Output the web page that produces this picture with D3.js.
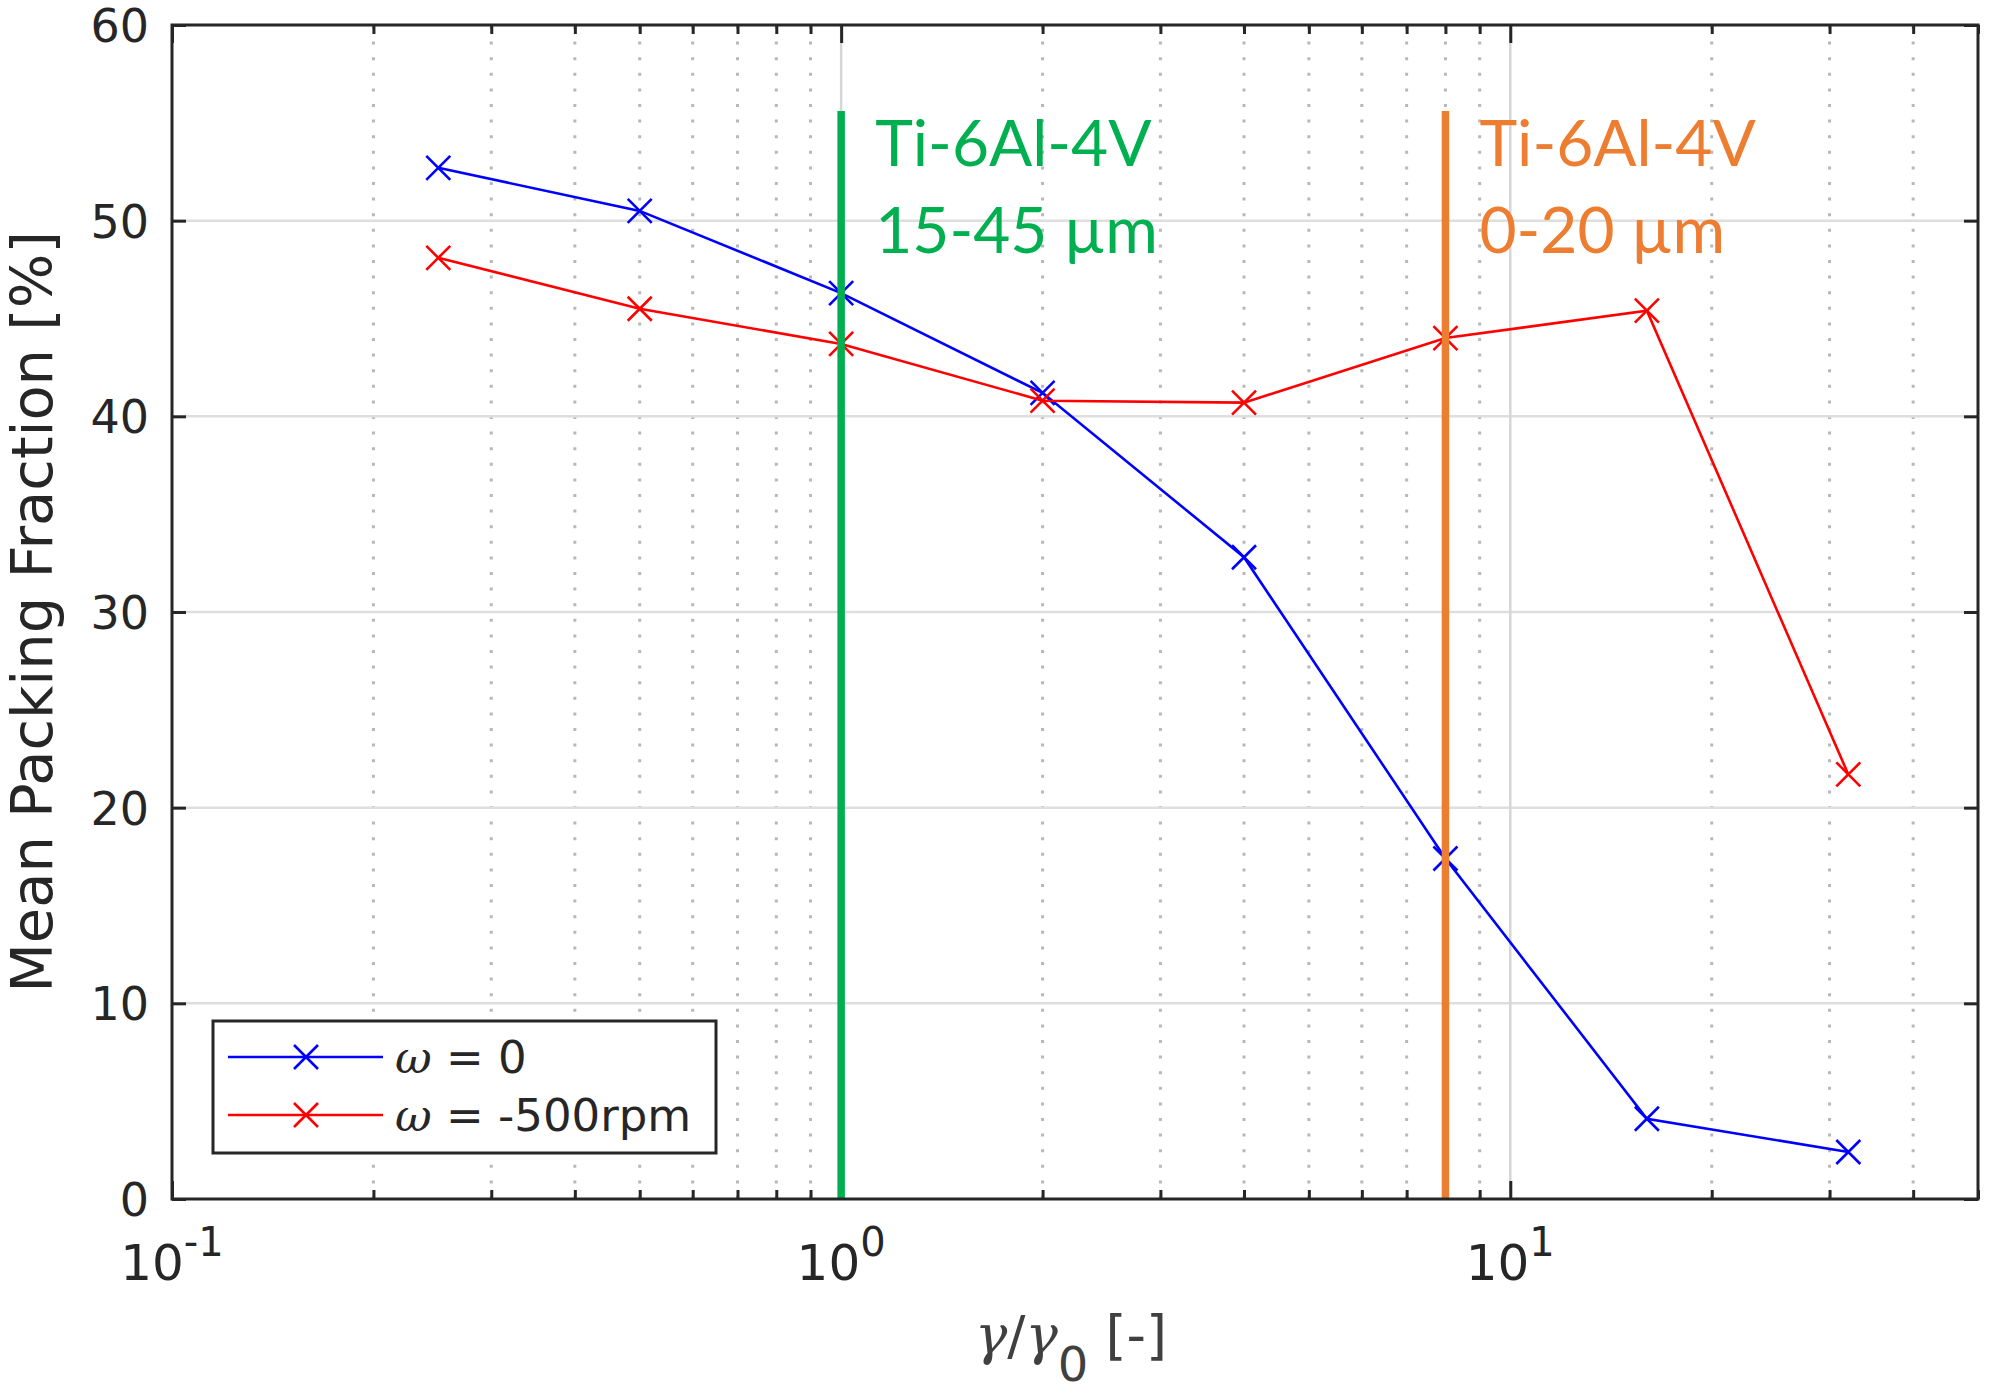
<!DOCTYPE html>
<html><head><meta charset="utf-8">
<script src="https://cdn.jsdelivr.net/npm/d3@7"></script>
<style>body{margin:0;background:#fff}</style>
</head><body>
<svg id="c" width="2000" height="1395" xmlns="http://www.w3.org/2000/svg"></svg>
<script>
// ---- data ----
const ratios = [0.25, 0.5, 1, 2, 4, 8, 16, 32];
const packNoRot = [52.7, 50.5, 46.3, 41.2, 32.8, 17.4, 4.1, 2.4];
const packRot = [48.1, 45.5, 43.7, 40.8, 40.7, 44.0, 45.4, 21.7];
const legendPrefix = ["ω", "ω"];
const legendRest = [" = 0", " = -500rpm"];
const seriesColors = ["#0000ff", "#ff0000"];
const yTicks = [0, 10, 20, 30, 40, 50, 60];
const xMajor = [0.1, 1, 10];
const xMajorExp = ["-1", "0", "1"];
const xMinor = [0.2, 0.3, 0.4, 0.5, 0.6, 0.7, 0.8, 0.9, 2, 3, 4, 5, 6, 7, 8, 9, 20, 30, 40, 50];
const markerX = [1, 8];
const markerTop = [55.6, 55.6];
const markerLabels = [["Ti-6Al-4V", "15-45 µm"], ["Ti-6Al-4V", "0-20 µm"]];
const markerColors = ["#00b050", "#ed7d31"];

// ---- layout ----
const L = 172, R = 1978, T = 25, B = 1199;
const ink = "#262626";
const x = d3.scaleLog().domain([0.1, 50]).range([L, R]);
const y = d3.scaleLinear().domain([0, 60]).range([B, T]);
const svg = d3.select("#c");

// grid
const g = svg.append("g");
g.selectAll(".mg").data(xMinor.filter(v => v < 50)).enter().append("line")
  .attr("x1", d => x(d)).attr("x2", d => x(d)).attr("y1", B).attr("y2", T)
  .attr("stroke", "#b8b8b8").attr("stroke-width", 3).attr("stroke-dasharray", "3,12.6");
g.selectAll(".yg").data(yTicks.filter(v => v > 0 && v < 60)).enter().append("line")
  .attr("x1", L).attr("x2", R).attr("y1", d => y(d)).attr("y2", d => y(d))
  .attr("stroke", "#dedede").attr("stroke-width", 2.5);
g.selectAll(".xg").data(xMajor.filter(v => v > 0.1)).enter().append("line")
  .attr("x1", d => x(d)).attr("x2", d => x(d)).attr("y1", B).attr("y2", T)
  .attr("stroke", "#d6d6d6").attr("stroke-width", 2.5);

// axes via d3 (ticks inward)
function styleAxis(sel) {
  sel.select(".domain").remove();
  sel.selectAll("line").attr("stroke", ink).attr("stroke-width", 3);
  sel.selectAll("text").remove();
}
svg.append("g").attr("transform", `translate(${L},0)`)
  .call(d3.axisRight(y).tickValues(yTicks).tickSize(14)).call(styleAxis);
svg.append("g").attr("transform", `translate(${R},0)`)
  .call(d3.axisLeft(y).tickValues(yTicks).tickSize(14)).call(styleAxis);
svg.append("g").attr("transform", `translate(0,${B})`)
  .call(d3.axisTop(x).tickValues(xMajor).tickSize(18)).call(styleAxis);
svg.append("g").attr("transform", `translate(0,${B})`)
  .call(d3.axisTop(x).tickValues(xMinor).tickSize(9)).call(styleAxis);
svg.append("g").attr("transform", `translate(0,${T})`)
  .call(d3.axisBottom(x).tickValues(xMajor).tickSize(18)).call(styleAxis);
svg.append("g").attr("transform", `translate(0,${T})`)
  .call(d3.axisBottom(x).tickValues(xMinor).tickSize(9)).call(styleAxis);

// data series
const series = [packNoRot, packRot];
const line = d3.line().x((d, i) => x(ratios[i])).y(d => y(d));
const s = 12;
series.forEach((vals, k) => {
  svg.append("path").datum(vals).attr("d", line)
    .attr("fill", "none").attr("stroke", seriesColors[k]).attr("stroke-width", 2.6);
  svg.selectAll(".m" + k).data(vals).enter().append("path")
    .attr("d", (d, i) => {
      const px = x(ratios[i]), py = y(d);
      return `M${px - s},${py - s}L${px + s},${py + s}M${px - s},${py + s}L${px + s},${py - s}`;
    })
    .attr("stroke", seriesColors[k]).attr("stroke-width", 2.6).attr("fill", "none");
});

// vertical reference lines + labels
markerX.forEach((mx, k) => {
  svg.append("line").attr("x1", x(mx)).attr("x2", x(mx))
    .attr("y1", y(markerTop[k])).attr("y2", B)
    .attr("stroke", markerColors[k]).attr("stroke-width", 7.5);
  const t = svg.append("text").attr("font-family", "Lato, 'Open Sans', sans-serif")
    .attr("font-size", 64).attr("fill", markerColors[k]);
  markerLabels[k].forEach((lab, j) => {
    t.append("tspan").attr("x", x(mx) + 34).attr("y", 166 + j * 87).text(lab);
  });
});

// frame
svg.append("rect").attr("x", L).attr("y", T).attr("width", R - L).attr("height", B - T)
  .attr("fill", "none").attr("stroke", ink).attr("stroke-width", 3);

// y tick labels
svg.selectAll(".yl").data(yTicks).enter().append("text")
  .attr("x", L - 23).attr("y", d => y(d) + 17)
  .attr("text-anchor", "end").attr("font-family", "'DejaVu Sans', sans-serif")
  .attr("font-size", 46).attr("fill", ink).text(d => d);

// x tick labels 10^n
xMajor.forEach((v, i) => {
  const t = svg.append("text").attr("x", x(v)).attr("y", 1280).attr("text-anchor", "middle")
    .attr("font-family", "'DejaVu Sans', sans-serif").attr("fill", ink);
  t.append("tspan").attr("font-size", 50).text("10");
  t.append("tspan").attr("font-size", 40).attr("dy", -24).text(xMajorExp[i]);
});

// axis labels
svg.append("text").attr("transform", `translate(52,${(T + B) / 2}) rotate(-90)`)
  .attr("text-anchor", "middle").attr("font-family", "'DejaVu Sans', sans-serif")
  .attr("font-size", 57.5).attr("fill", ink).text("Mean Packing Fraction [%]");
const xl = svg.append("text").attr("x", (L + R) / 2 - 4).attr("y", 1354).attr("text-anchor", "middle")
  .attr("font-family", "'DejaVu Sans', sans-serif").attr("font-size", 54).attr("fill", "#404040");
xl.append("tspan").attr("font-family", "'DejaVu Serif', serif").attr("font-style", "italic").text("γ");
xl.append("tspan").text("/");
xl.append("tspan").attr("font-family", "'DejaVu Serif', serif").attr("font-style", "italic").text("γ");
xl.append("tspan").attr("dy", 27).attr("font-size", 48).text("0");
xl.append("tspan").attr("dy", -27).text(" [-]");

// legend
const lg = svg.append("g");
lg.append("rect").attr("x", 213).attr("y", 1021).attr("width", 503).attr("height", 132)
  .attr("fill", "#fff").attr("stroke", ink).attr("stroke-width", 3);
const legY = [1057, 1115];
series.forEach((vals, k) => {
  lg.append("line").attr("x1", 228).attr("x2", 383).attr("y1", legY[k]).attr("y2", legY[k])
    .attr("stroke", seriesColors[k]).attr("stroke-width", 2.6);
  lg.append("path").attr("d", `M${306 - s},${legY[k] - s}L${306 + s},${legY[k] + s}M${306 - s},${legY[k] + s}L${306 + s},${legY[k] - s}`)
    .attr("stroke", seriesColors[k]).attr("stroke-width", 2.6);
  const t = lg.append("text").attr("x", 395).attr("y", legY[k] + 16)
    .attr("font-family", "'DejaVu Sans', sans-serif").attr("font-size", 45).attr("fill", ink);
  t.append("tspan").attr("font-family", "'DejaVu Serif', serif").attr("font-style", "italic").text(legendPrefix[k]);
  t.append("tspan").text(legendRest[k]);
});
</script>
</body></html>
